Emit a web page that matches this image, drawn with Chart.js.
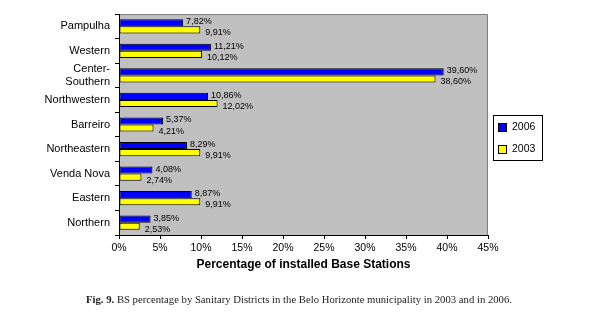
<!DOCTYPE html>
<html>
<head>
<meta charset="utf-8">
<script src="https://cdn.jsdelivr.net/npm/chart.js@4.4.1/dist/chart.umd.min.js"></script>
<style>
  body { margin: 0; background: #fff; }
  #wrap { position: relative; width: 610px; height: 323px; }
  #caption { position: absolute; left: 86px; top: 293px; font: 10.7px "Liberation Serif", serif; color: #222; white-space: nowrap; }
</style>
</head>
<body>
<div id="wrap">
  <canvas id="chart" width="610" height="323"></canvas>
  <div id="caption"><b>Fig. 9.</b> BS percentage by Sanitary Districts in the Belo Horizonte municipality in 2003 and in 2006.</div>
</div>
<script>
const districts = ['Pampulha', 'Western', ['Center-', 'Southern'], 'Northwestern', 'Barreiro', 'Northeastern', 'Venda Nova', 'Eastern', 'Northern'];
const bs2006 = [7.82, 11.21, 39.60, 10.86, 5.37, 8.29, 4.08, 8.87, 3.85];
const bs2003 = [9.91, 10.12, 38.60, 12.02, 4.21, 9.91, 2.74, 9.91, 2.53];
const xTicks = [0, 5, 10, 15, 20, 25, 30, 35, 40, 45];

const fmt = v => v.toFixed(2).replace('.', ',') + '%';

// grey plot area, grey top/right frame
const plotArea = {
  id: 'plotArea',
  beforeDraw(chart) {
    const { ctx, chartArea: a } = chart;
    ctx.save();
    ctx.fillStyle = '#c0c0c0';
    ctx.fillRect(a.left, a.top, a.right - a.left, a.bottom - a.top);
    ctx.strokeStyle = '#808080';
    ctx.lineWidth = 1;
    ctx.beginPath();
    ctx.moveTo(a.left, a.top + 0.5);
    ctx.lineTo(a.right - 0.5, a.top + 0.5);
    ctx.lineTo(a.right - 0.5, a.bottom);
    ctx.stroke();
    ctx.restore();
  }
};

const valueLabels = {
  id: 'valueLabels',
  afterDatasetsDraw(chart) {
    const ctx = chart.ctx;
    ctx.save();
    ctx.font = '9px "Liberation Sans", Arial, sans-serif';
    ctx.fillStyle = '#000';
    ctx.textBaseline = 'middle';
    chart.data.datasets.forEach((ds, i) => {
      const dx = i === 0 ? 3 : 5;
      const dy = i === 0 ? -1 : 3;
      chart.getDatasetMeta(i).data.forEach((bar, j) => {
        ctx.fillText(fmt(ds.data[j]), bar.x + dx, bar.y + dy);
      });
    });
    ctx.restore();
  }
};

// boxed legend to the right of the plot
const boxLegend = {
  id: 'boxLegend',
  afterDraw(chart) {
    const ctx = chart.ctx;
    const x = 493, y = 115, w = 49, h = 45;
    ctx.save();
    ctx.fillStyle = '#fff';
    ctx.fillRect(x, y, w, h);
    ctx.strokeStyle = '#000';
    ctx.lineWidth = 1;
    ctx.strokeRect(x + 0.5, y + 0.5, w, h);
    ctx.font = '10.5px "Liberation Sans", Arial, sans-serif';
    ctx.textBaseline = 'middle';
    chart.data.datasets.forEach((ds, i) => {
      const sy = y + 8 + i * 22;
      ctx.fillStyle = ds.backgroundColor;
      ctx.fillRect(x + 5, sy, 8, 8);
      ctx.strokeRect(x + 5.5, sy + 0.5, 8, 8);
      ctx.fillStyle = '#000';
      ctx.fillText(ds.label, x + 19, sy + 4.5);
    });
    ctx.restore();
  }
};

new Chart(document.getElementById('chart'), {
  type: 'bar',
  data: {
    labels: districts,
    datasets: [
      { label: '2006', data: bs2006, backgroundColor: '#0000ff', borderColor: '#000', borderWidth: 1, borderSkipped: false },
      { label: '2003', data: bs2003, backgroundColor: '#ffff00', borderColor: '#000', borderWidth: 1, borderSkipped: false }
    ]
  },
  options: {
    indexAxis: 'y',
    responsive: false,
    animation: false,
    categoryPercentage: 0.58,
    barPercentage: 1,
    layout: { padding: { top: 14, right: 122, bottom: 51, left: 0 } },
    plugins: { legend: { display: false }, tooltip: { enabled: false } },
    scales: {
      x: {
        min: 0, max: 45,
        afterBuildTicks: s => { s.ticks = xTicks.map(v => ({ value: v })); },
        afterFit: s => { s.height = 37; },
        grid: { drawOnChartArea: false, tickLength: 4, color: '#000' },
        border: { color: '#000' },
        ticks: { color: '#000', padding: 3, maxRotation: 0, font: { family: '"Liberation Sans", Arial, sans-serif', size: 10.5 }, callback: v => v + '%' },
        title: { display: true, text: 'Percentage of installed Base Stations', color: '#000', padding: { top: 2, bottom: 0 }, font: { family: '"Liberation Sans", Arial, sans-serif', size: 12, weight: 'bold' } }
      },
      y: {
        afterFit: s => { s.width = 119; },
        grid: { drawOnChartArea: false, tickLength: 4, color: '#000', offset: true },
        border: { color: '#000' },
        ticks: { color: '#000', padding: 5, autoSkip: false, font: { family: '"Liberation Sans", Arial, sans-serif', size: 11 } }
      }
    }
  },
  plugins: [plotArea, valueLabels, boxLegend]
});
</script>
</body>
</html>
